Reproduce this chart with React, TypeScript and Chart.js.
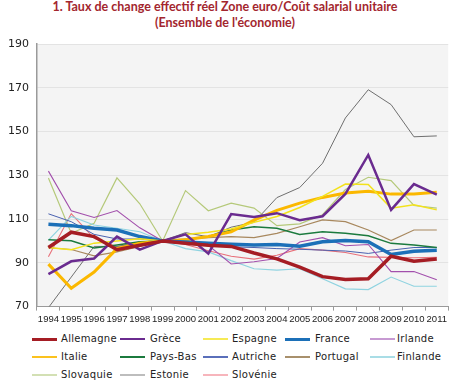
import React, { useEffect, useRef } from "react";
import { Chart, registerables } from "chart.js";

Chart.register(...registerables);

const titleLines = ["1. Taux de change effectif réel Zone euro/Coût salarial unitaire", "(Ensemble de l'économie)"];

const years = ["1994", "1995", "1996", "1997", "1998", "1999", "2000", "2001", "2002", "2003", "2004", "2005", "2006", "2007", "2008", "2009", "2010", "2011"];

const allemagne = [97, 104, 102, 96, 98, 100, 99, 98, 97.5, 94.5, 91.8, 88, 83.7, 82.4, 82.7, 93, 90.7, 91.7];
const grece = [84.8, 90.7, 92, 102, 96, 100, 103, 94.2, 112.3, 111, 112.7, 109.5, 111.3, 121.5, 139.3, 114.2, 126, 121.2];
const espagne = [97, 96, 99, 100, 101, 100, 103, 104, 105.5, 108.5, 111.2, 115.3, 120.4, 126, 125.8, 115, 116.5, 114.2];
const france = [107.6, 107, 105.8, 105, 102, 100, 99.5, 99, 98.5, 98.1, 98.4, 97.6, 99.6, 100.2, 99.6, 93.8, 95.3, 95.8];
const irlande = [131.9, 113.8, 110.7, 113.9, 106, 100, 99, 98, 89.5, 90.5, 92, 99.5, 101.5, 97.8, 98.4, 86, 86, 82.3];
const italie = [89.4, 78.4, 85.8, 96.5, 98.9, 100, 100.5, 102, 104.2, 109.5, 114, 117.3, 119.9, 121.9, 122.7, 121.4, 121.4, 122.2];
const paysBas = [100.6, 100.1, 96.8, 98.1, 99.6, 100, 100.4, 102, 105, 106.5, 105.8, 103, 104.2, 103.5, 102.4, 98.9, 98.1, 97];
const autriche = [112.4, 108.8, 103, 100.9, 100.9, 100, 99, 98.5, 97.3, 97, 96.5, 96.2, 95.8, 95.4, 94.3, 95.8, 97, 97];
const portugal = [96.9, 96.1, 93.2, 95, 97.5, 100, 101, 101.5, 102, 101.5, 103.5, 106.5, 109.6, 108.8, 105, 100.2, 105, 105];
const finlande = [100.4, 111.2, 107.3, 105.8, 104.2, 100, 96.5, 95, 91, 87.3, 86.7, 87.3, 82.7, 78.1, 77.8, 83.5, 79.3, 79.3];
const slovaquie = [128.8, 103.5, 108.1, 128.8, 117, 100, 123, 113.8, 117.3, 115, 107, 107.8, 112, 123.5, 129.1, 127.6, 116.2, 115];
const estonie = [69.5, 83.5, 97.5, 97.5, 99, 100, 103.8, 101.9, 106.3, 108.5, 119.8, 124.4, 135.5, 156.2, 169.1, 162.3, 147.6, 148];
const slovenie = [92.8, 112.5, 101.2, 97.3, 99.6, 100, 98.4, 95.5, 93, 91.7, 93.5, 96.5, 95.8, 94.7, 92.7, 92.5, 92.3, 92.5];

const yTicks = [70, 90, 110, 130, 150, 170, 190];

type S = { name: string; data: number[]; color: string; legendColor: string; width: number; legendWidth: number };

const series: S[] = [
  { name: "Allemagne", data: allemagne, color: "#a51d24", legendColor: "#a51d24", width: 3.5, legendWidth: 3 },
  { name: "Grèce", data: grece, color: "#6a2b8f", legendColor: "#6a2b8f", width: 2.5, legendWidth: 2 },
  { name: "Espagne", data: espagne, color: "#f3e21c", legendColor: "#f6ea55", width: 1.5, legendWidth: 2 },
  { name: "France", data: france, color: "#1c70b8", legendColor: "#1c70b8", width: 3.5, legendWidth: 3 },
  { name: "Irlande", data: irlande, color: "#a24fac", legendColor: "#c79ad2", width: 1.1, legendWidth: 2 },
  { name: "Italie", data: italie, color: "#fbb800", legendColor: "#fbc21e", width: 3, legendWidth: 2.5 },
  { name: "Pays-Bas", data: paysBas, color: "#1b7a3e", legendColor: "#1b7a3e", width: 1.5, legendWidth: 2 },
  { name: "Autriche", data: autriche, color: "#4a62b0", legendColor: "#5a6fba", width: 1, legendWidth: 2 },
  { name: "Portugal", data: portugal, color: "#a8885e", legendColor: "#a8906c", width: 1.2, legendWidth: 2 },
  { name: "Finlande", data: finlande, color: "#8fd3e0", legendColor: "#a9dde6", width: 1.2, legendWidth: 2 },
  { name: "Slovaquie", data: slovaquie, color: "#b5c97a", legendColor: "#d3e0b4", width: 1.2, legendWidth: 2.5 },
  { name: "Estonie", data: estonie, color: "#6f6f6f", legendColor: "#bdbdbd", width: 1, legendWidth: 2.5 },
  { name: "Slovénie", data: slovenie, color: "#e8707a", legendColor: "#f7b5bc", width: 1.1, legendWidth: 2.5 },
];

const legendCols = [32, 120, 203, 285, 370];
const legendTextX = [61, 150, 232, 315, 397];
const legendRowsY = [339, 357, 375];

const bgPlugin = {
  id: "plotBg",
  beforeDraw(chart: any) {
    const { ctx, chartArea } = chart;
    if (!chartArea) return;
    ctx.save();
    ctx.fillStyle = "#f4f4f4";
    ctx.fillRect(chartArea.left, chartArea.top, chartArea.right - chartArea.left, chartArea.bottom - chartArea.top);
    ctx.restore();
  },
};

export default function App() {
  const ref = useRef<HTMLCanvasElement | null>(null);

  useEffect(() => {
    if (!ref.current) return;
    const chart = new Chart(ref.current, {
      type: "line",
      data: {
        labels: years,
        datasets: series.map((s) => ({
          label: s.name,
          data: s.data,
          borderColor: s.color,
          backgroundColor: s.color,
          borderWidth: s.width,
          pointRadius: 0,
          tension: 0,
          fill: false,
        })),
      },
      options: {
        responsive: false,
        animation: false,
        devicePixelRatio: 1,
        layout: { padding: { top: 44, left: 0, right: 0, bottom: 2 } },
        plugins: {
          legend: { display: false },
          title: { display: false },
          tooltip: { enabled: false },
        },
        scales: {
          x: {
            type: "category",
            offset: true,
            grid: {
              display: true,
              drawOnChartArea: false,
              drawTicks: true,
              tickLength: 4,
              color: "#9a9a9a",
              offset: true,
            },
            border: { display: true, color: "#9a9a9a", width: 1 },
            ticks: {
              autoSkip: false,
              maxRotation: 0,
              minRotation: 0,
              padding: 3,
              color: "#222",
              font: { family: "Liberation Sans", size: 9.5 },
            },
          },
          y: {
            min: 70,
            max: 190,
            afterBuildTicks: (axis: any) => {
              axis.ticks = yTicks.map((v) => ({ value: v }));
            },
            grid: { color: "#e3e3e3", drawTicks: false, lineWidth: 1 },
            border: { display: true, color: "#9a9a9a", width: 1.5 },
            ticks: {
              padding: 8,
              color: "#222",
              font: { family: "DejaVu Sans", size: 11 },
            },
          },
        },
      },
      plugins: [bgPlugin],
    });
    return () => chart.destroy();
  }, []);

  return (
    <div style={{ position: "absolute", left: 0, top: 0, width: 450, height: 382, background: "#fff" }}>
      <div
        style={{
          position: "absolute",
          left: 0,
          top: -1,
          width: 450,
          textAlign: "center",
          fontFamily: "Lato, sans-serif",
          fontWeight: 700,
          fontSize: 12.5,
          lineHeight: "16px",
          color: "#a3262e",
        }}
      >
        {titleLines.map((t, i) => (
          <div key={i}>{t}</div>
        ))}
      </div>
      <canvas ref={ref} width={450} height={330} style={{ position: "absolute", left: 0, top: 0 }} />
      {series.map((s, i) => {
        const col = i % 5;
        const row = Math.floor(i / 5);
        const y = legendRowsY[row];
        return (
          <React.Fragment key={s.name}>
            <div
              style={{
                position: "absolute",
                left: legendCols[col],
                top: y - s.legendWidth / 2,
                width: 25,
                height: s.legendWidth,
                background: s.legendColor,
              }}
            />
            <div
              style={{
                position: "absolute",
                left: legendTextX[col],
                top: y - 7,
                height: 14,
                lineHeight: "14px",
                fontFamily: "DejaVu Sans, sans-serif",
                fontSize: 10,
                color: "#222",
                whiteSpace: "nowrap",
                letterSpacing: 0.3,
              }}
            >
              {s.name}
            </div>
          </React.Fragment>
        );
      })}
    </div>
  );
}
